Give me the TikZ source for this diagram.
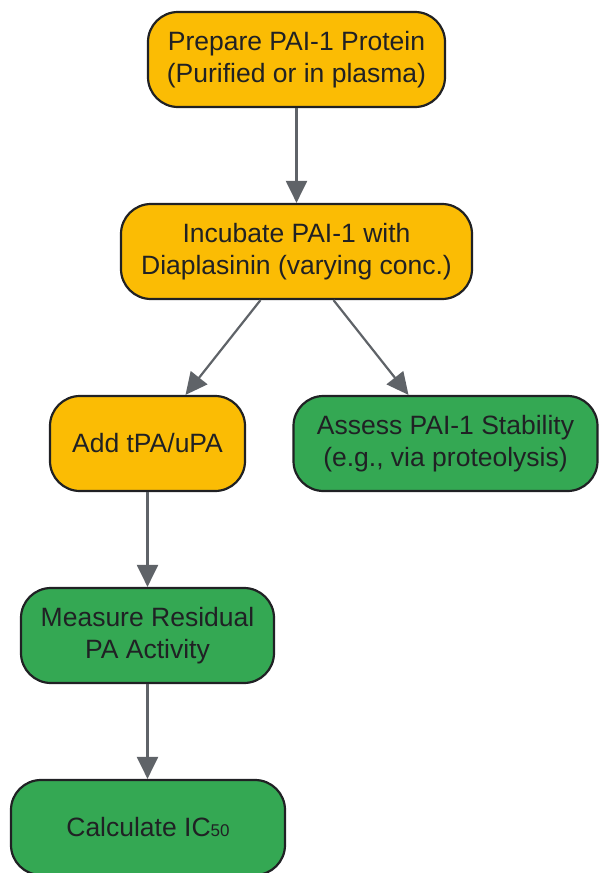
\documentclass[tikz,border=0pt]{standalone}
\usepackage{fontspec}
\setmainfont{Liberation Sans}
\usetikzlibrary{arrows.meta}

\definecolor{stepyellow}{HTML}{FBBC04}
\definecolor{stepgreen}{HTML}{34A853}
\definecolor{edgegray}{HTML}{5F6368}
\definecolor{inkdark}{HTML}{202124}

\tikzset{every picture/.style={line width=2.2pt}}
\tikzset{
  box/.style={draw=inkdark, rounded corners=30pt, align=center, text=inkdark,
    inner sep=0pt, font=\fontsize{26.5}{32.5}\selectfont},
  yellowbox/.style={box, fill=stepyellow},
  greenbox/.style={box, fill=stepgreen},
  flow/.style={draw=edgegray, -{Triangle[length=22pt,width=21pt]}}
}

\begin{document}
\begin{tikzpicture}[x=1pt,y=1pt,yscale=-1]
	\useasboundingbox (0,0) rectangle (598,873);

	% Step Nodes
	\node [yellowbox, minimum width=297pt, minimum height=95pt] (prepare) at (296.5,59.5) {Prepare PAI-1 Protein\\(Purified or in plasma)};
	\node [yellowbox, minimum width=351pt, minimum height=95pt] (incubate) at (296.5,251.5) {Incubate PAI-1 with\\Diaplasinin (varying conc.)};
	\node [yellowbox, minimum width=195pt, minimum height=95pt] (addpa) at (147.5,443.5) {Add tPA/uPA};
	\node [greenbox, minimum width=304pt, minimum height=95pt] (assess) at (445.5,443.5) {Assess PAI-1 Stability\\(e.g., via proteolysis)};
	\node [greenbox, minimum width=253pt, minimum height=95pt] (measure) at (147.5,635.5) {Measure Residual\\PA Activity};
	\node [greenbox, minimum width=274pt, minimum height=95pt] (calc) at (148,827.5) {Calculate IC{\fontsize{17}{17}\selectfont 50}};

	% Connectors
	\draw [flow] (prepare.south) -- (incubate.north);
	\draw [flow] ([xshift=-36pt]incubate.south) -- ([xshift=38pt]addpa.north);
	\draw [flow] ([xshift=37pt]incubate.south) -- ([xshift=-37pt]assess.north);
	\draw [flow] (addpa.south) -- (measure.north);
	\draw [flow] (measure.south) -- ([xshift=-0.5pt]calc.north);

\end{tikzpicture}
\end{document}
